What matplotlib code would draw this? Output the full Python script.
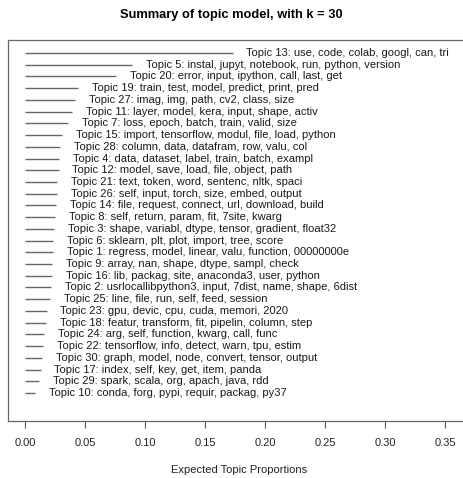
import matplotlib
matplotlib.use("Agg")
import matplotlib.pyplot as plt

topics = [13, 5, 20, 19, 27, 11, 7, 15, 28, 4, 12, 21, 26, 14, 8, 3, 6, 1, 9, 16,
          2, 25, 23, 18, 24, 22, 30, 17, 29, 10]
words = [
    "use, code, colab, googl, can, tri",
    "instal, jupyt, notebook, run, python, version",
    "error, input, ipython, call, last, get",
    "train, test, model, predict, print, pred",
    "imag, img, path, cv2, class, size",
    "layer, model, kera, input, shape, activ",
    "loss, epoch, batch, train, valid, size",
    "import, tensorflow, modul, file, load, python",
    "column, data, datafram, row, valu, col",
    "data, dataset, label, train, batch, exampl",
    "model, save, load, file, object, path",
    "text, token, word, sentenc, nltk, spaci",
    "self, input, torch, size, embed, output",
    "file, request, connect, url, download, build",
    "self, return, param, fit, 7site, kwarg",
    "shape, variabl, dtype, tensor, gradient, float32",
    "sklearn, plt, plot, import, tree, score",
    "regress, model, linear, valu, function, 00000000e",
    "array, nan, shape, dtype, sampl, check",
    "lib, packag, site, anaconda3, user, python",
    "usrlocallibpython3, input, 7dist, name, shape, 6dist",
    "line, file, run, self, feed, session",
    "gpu, devic, cpu, cuda, memori, 2020",
    "featur, transform, fit, pipelin, column, step",
    "arg, self, function, kwarg, call, func",
    "tensorflow, info, detect, warn, tpu, estim",
    "graph, model, node, convert, tensor, output",
    "index, self, key, get, item, panda",
    "spark, scala, org, apach, java, rdd",
    "conda, forg, pypi, requir, packag, py37",
]
proportions = [0.173, 0.089, 0.076, 0.044, 0.042, 0.039, 0.036, 0.031, 0.029, 0.0285,
               0.028, 0.027, 0.027, 0.026, 0.025, 0.024, 0.0236, 0.0235, 0.0228, 0.0225,
               0.0217, 0.021, 0.018, 0.0172, 0.016, 0.0153, 0.0139, 0.013, 0.012, 0.0083]
xticks = [0.00, 0.05, 0.10, 0.15, 0.20, 0.25, 0.30, 0.35]

plt.rcParams['font.family'] = ['Liberation Sans', 'DejaVu Sans']

W, H = 463, 478
fig = plt.figure(figsize=(W / 100, H / 100), dpi=100)
left = 8 / W
bottom = (H - 421) / H
top = (H - 40) / H
right = 470 / W
ax = fig.add_axes([left, bottom, right - left, top - bottom])

n = len(topics)
ys = list(range(n, 0, -1))
for t, w, p, y in zip(topics, words, proportions, ys):
    ax.plot([0, p], [y, y], color='#666666', lw=1.0, solid_capstyle='butt')
    ax.annotate(f"Topic {t}: {w}", xy=(p, y), xytext=(10, 0), textcoords='offset points',
                ha='left', va='center', fontsize=8.0, color='#1a1a1a')

ax.set_xlim((8 - 25) / 1200, (470 - 25) / 1200)
ax.set_ylim(-1.39, n + 1.11)
ax.set_yticks([])
ax.set_xticks(xticks)
ax.set_xticklabels([f"{v:.2f}" for v in xticks], fontsize=8.0, color='#222222')
ax.tick_params(axis='x', direction='out', length=5, width=0.8, pad=7.5, color='#555555')
for s in ax.spines.values():
    s.set_color('#666666')
    s.set_linewidth(0.9)
ax.set_xlabel("Expected Topic Proportions", fontsize=8.0, labelpad=12, color='#222222')
fig.text((120 + 343) / 2 / W, (H - 15) / H, "Summary of topic model, with k = 30",
         ha='center', va='center', fontsize=9.3, fontweight='bold')

fig.savefig("out.png", dpi=100)
